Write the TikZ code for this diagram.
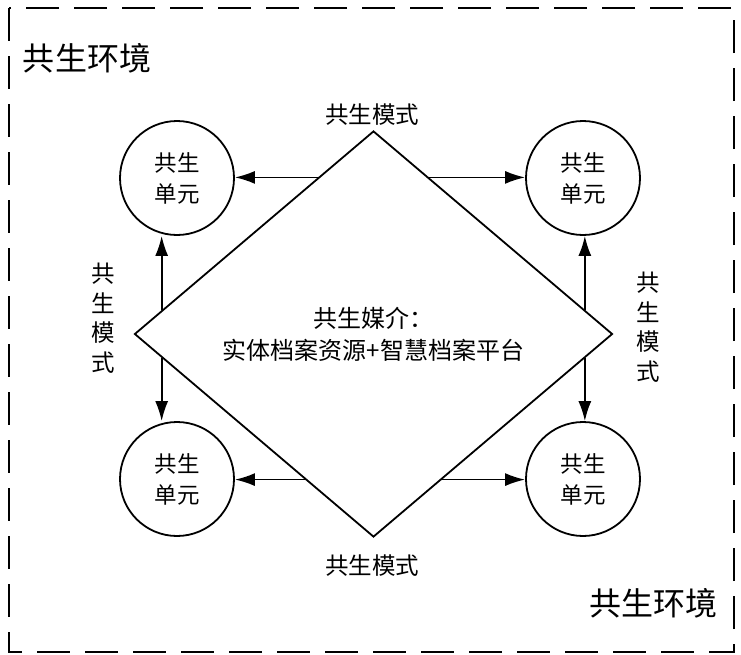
\documentclass[tikz,border=0pt]{standalone}
\usepackage{fontspec}
\setmainfont{Noto Sans CJK SC}
\usetikzlibrary{shapes.geometric,arrows.meta,calc}
\tikzset{
  unit/.style={circle,draw,line width=1.8pt,minimum size=114pt,inner sep=0pt,align=center,font=\fontsize{22.5}{31}\selectfont},
  media/.style={diamond,draw,line width=1.8pt,minimum width=478pt,minimum height=406pt,inner sep=0pt,align=center,font=\fontsize{24}{32}\selectfont},
  lbl/.style={font=\fontsize{23.5}{26}\selectfont,inner sep=0pt},
  vlbl/.style={font=\fontsize{23.5}{29.5}\selectfont,inner sep=0pt,align=center},
  env/.style={font=\fontsize{32}{36}\selectfont,inner sep=0pt},
  link/.style={line width=1.8pt,-{Latex[length=20pt,width=13pt]}},
  frame/.style={line width=1.8pt,dash pattern=on 33pt off 15pt}
}
\begin{document}
\begin{tikzpicture}[x=1pt,y=-1pt]
\useasboundingbox (0,0) rectangle (741,654);
\draw[frame] (9,8) rectangle (734,652);
\node[env] (e1) at (87,58) {共生环境};
\node[env] (e2) at (653,603) {共生环境};
\node[media] (dia) at (373.5,334) {共生媒介：\\实体档案资源+智慧档案平台};
\node[unit] (c1) at (177,178) {共生\\单元};
\node[unit] (c2) at (583,178) {共生\\单元};
\node[unit] (c3) at (177,479) {共生\\单元};
\node[unit] (c4) at (583,479) {共生\\单元};
\node[lbl] (mt) at (372,115) {共生模式};
\node[lbl] (mb) at (372,566) {共生模式};
\node[vlbl] (ml) at (103,318) {共\\生\\模\\式};
\node[vlbl] (mr) at (648,327) {共\\生\\模\\式};
% horizontal arrows
\coordinate (p1) at ($(dia.north)!0.232!(dia.west)$);
\coordinate (p2) at ($(dia.north)!0.232!(dia.east)$);
\coordinate (p3) at ($(dia.south)!0.286!(dia.west)$);
\coordinate (p4) at ($(dia.south)!0.286!(dia.east)$);
\draw[link] (p1) -- (p1 -| c1.east);
\draw[link] (p2) -- (p2 -| c2.west);
\draw[link] (p3) -- (p3 -| c3.east);
\draw[link] (p4) -- (p4 -| c4.west);
% vertical arrows
\coordinate (q1) at ($(dia.west)!0.117!(dia.north)$);
\coordinate (q3) at ($(dia.west)!0.117!(dia.south)$);
\coordinate (q2) at ($(dia.east)!0.119!(dia.north)$);
\coordinate (q4) at ($(dia.east)!0.119!(dia.south)$);
\draw[link] (q1) -- (q1 |- c1.south);
\draw[link] (q3) -- (q3 |- c3.north);
\draw[link] (q2) -- (q2 |- c2.south);
\draw[link] (q4) -- (q4 |- c4.north);
\end{tikzpicture}
\end{document}
